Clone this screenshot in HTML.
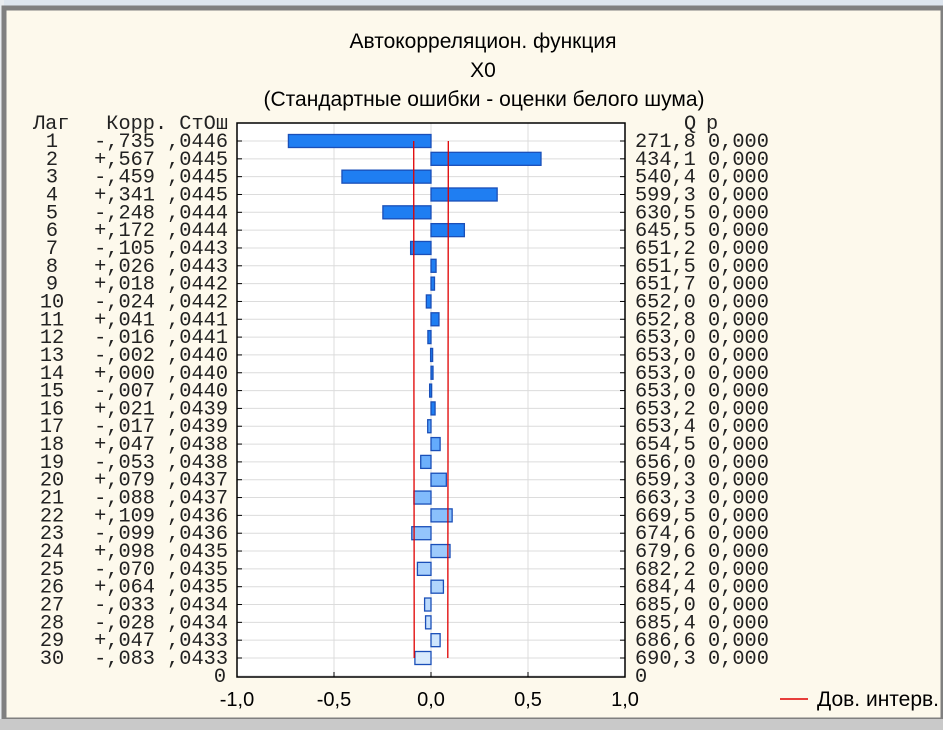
<!DOCTYPE html>
<html><head><meta charset="utf-8">
<style>
html,body{margin:0;padding:0;width:943px;height:730px;overflow:hidden;background:#fdf9ec;}
svg{display:block;}
</style></head>
<body>
<svg id="chart" width="943" height="730" xmlns="http://www.w3.org/2000/svg">
<rect x="0" y="0" width="943" height="8" fill="#dde5ee"/>
<rect x="0" y="0" width="4" height="730" fill="#e8ecf0"/>
<rect x="4" y="8" width="939" height="712" fill="#fdf9ec" stroke="#808080" stroke-width="5"/>
<rect x="0" y="719" width="943" height="11" fill="#c9c9c9"/>
<text x="483" y="48" font-family="Liberation Sans, sans-serif" font-size="21" text-anchor="middle">Автокорреляцион. функция</text>
<text x="483" y="77" font-family="Liberation Sans, sans-serif" font-size="21" text-anchor="middle">X0</text>
<text x="484" y="106" font-family="Liberation Sans, sans-serif" font-size="21" text-anchor="middle">(Стандартные ошибки - оценки белого шума)</text>
<g id="grid"></g>
<g id="bars"></g>
<g id="conf"></g>
<g id="labels" font-family="Liberation Mono, monospace" font-size="20.3" fill="#222"></g>
<g id="axis" font-family="Liberation Sans, sans-serif" font-size="20"></g>
<line x1="780" y1="699" x2="808" y2="699" stroke="#e00000" stroke-width="1.5"/>
<text x="817" y="706" font-family="Liberation Sans, sans-serif" font-size="21">Дов. интерв.</text>
</svg>
<script>
const lags = [1,2,3,4,5,6,7,8,9,10,11,12,13,14,15,16,17,18,19,20,21,22,23,24,25,26,27,28,29,30];
const corr = [-0.735,0.567,-0.459,0.341,-0.248,0.172,-0.105,0.026,0.018,-0.024,0.041,-0.016,-0.002,0.000,-0.007,0.021,-0.017,0.047,-0.053,0.079,-0.088,0.109,-0.099,0.098,-0.070,0.064,-0.033,-0.028,0.047,-0.083];
const corrLabels = ["-,735","+,567","-,459","+,341","-,248","+,172","-,105","+,026","+,018","-,024","+,041","-,016","-,002","+,000","-,007","+,021","-,017","+,047","-,053","+,079","-,088","+,109","-,099","+,098","-,070","+,064","-,033","-,028","+,047","-,083"];
const stErr = [",0446",",0445",",0445",",0445",",0444",",0444",",0443",",0443",",0442",",0442",",0441",",0441",",0440",",0440",",0440",",0439",",0439",",0438",",0438",",0437",",0437",",0436",",0436",",0435",",0435",",0435",",0434",",0434",",0433",",0433"];
const seVals = [0.0446,0.0445,0.0445,0.0445,0.0444,0.0444,0.0443,0.0443,0.0442,0.0442,0.0441,0.0441,0.0440,0.0440,0.0440,0.0439,0.0439,0.0438,0.0438,0.0437,0.0437,0.0436,0.0436,0.0435,0.0435,0.0435,0.0434,0.0434,0.0433,0.0433];
const qStat = ["271,8","434,1","540,4","599,3","630,5","645,5","651,2","651,5","651,7","652,0","652,8","653,0","653,0","653,0","653,0","653,2","653,4","654,5","656,0","659,3","663,3","669,5","674,6","679,6","682,2","684,4","685,0","685,4","686,6","690,3"];
const pVals = ["0,000","0,000","0,000","0,000","0,000","0,000","0,000","0,000","0,000","0,000","0,000","0,000","0,000","0,000","0,000","0,000","0,000","0,000","0,000","0,000","0,000","0,000","0,000","0,000","0,000","0,000","0,000","0,000","0,000","0,000"];
const xTicks = [-1.0,-0.5,0.0,0.5,1.0];
const xTickLabels = ["-1,0","-0,5","0,0","0,5","1,0"];

const NS="http://www.w3.org/2000/svg";
const L=237,R=625,T=123,B=677;
const x = v => L + (v+1)/2*(R-L);
const y = i => 141 + i*(658-141)/29;
function mk(tag, attrs, parent){const e=document.createElementNS(NS,tag);for(const k in attrs)e.setAttribute(k,attrs[k]);document.getElementById(parent).appendChild(e);return e;}

const bg = mk('rect',{x:L,y:T,width:R-L,height:B-T,fill:'#fff',stroke:'none'},'grid');


for(let i=0;i<=lags.length;i++){
  const g = mk('line',{x1:L,x2:R,y1:y(i),y2:y(i),stroke:'#dcdcdc','stroke-width':1},'grid');
  
  
}
xTicks.forEach((t,j)=>{
  if(j>0 && j<xTicks.length-1){
    const g = mk('line',{x1:x(t),x2:x(t),y1:T,y2:B,stroke:'#dcdcdc','stroke-width':1},'grid');
    
    
  }
  const tk = mk('line',{x1:x(t),x2:x(t),y1:B,y2:B-5,stroke:'#000'},'axis');
  
  
  const tt = mk('text',{x:x(t),y:B+29,'text-anchor':'middle'},'axis');
  tt.textContent = xTickLabels[j];
  
  
});
const frame = mk('rect',{x:L,y:T,width:R-L,height:B-T,fill:'none',stroke:'#000','stroke-width':1.5},'axis');



const bh = 13;
corr.forEach((c,i)=>{
  const x0=x(0), x1=x(c);
  let fill;
  if(i<16) fill='#1f7ef2';
  else { const f=(i-16)/13; const r=Math.round(0x5a+(0xd8-0x5a)*f), g=Math.round(0xa6+(0xea-0xa6)*f); fill=`rgb(${r},${g},252)`; }
  const b = mk('rect',{x:Math.min(x0,x1),y:y(i)-bh/2,width:Math.max(Math.abs(x1-x0),2),height:bh,fill:fill,stroke:'#1a4fb8','stroke-width':1.3},'bars');
  
  
  const tk = mk('line',{x1:L,x2:L+5,y1:y(i),y2:y(i),stroke:'#000'},'axis');
  
  
  const tk2 = mk('line',{x1:R-5,x2:R,y1:y(i),y2:y(i),stroke:'#000'},'axis');
  
  
});

const upper = seVals.map(s=>2*s), lower = seVals.map(s=>-2*s);
[upper,lower].forEach((arr,k)=>{
  const pts = arr.map((v,i)=>x(v)+','+y(i)).join(' ');
  const pl = mk('polyline',{points:pts,fill:'none',stroke:'#e00000','stroke-width':1.3},'conf');
  
  
});

function txt(s,xx,yy,name,anchor){const t=mk('text',{x:xx,y:yy+6,'text-anchor':anchor||'start'},'labels');t.textContent=s;return t;}
txt('Лаг',33,123,'lag-header');
txt('Корр. СтОш',228,123,'corr-header','end');
txt('Q',684,123,'q-header');
txt('p',706,123,'p-header');
lags.forEach((l,i)=>{
  txt(String(l),52,y(i),'lag-label','middle');
  txt(corrLabels[i]+' '+stErr[i],228,y(i),'corr-label','end');
  txt(qStat[i]+' '+pVals[i],635,y(i),'q-p-label');
});
txt('0',226,y(30),'zero-lag-label','end');
txt('0',635,y(30),'zero-q-label');
</script>
</body></html>
